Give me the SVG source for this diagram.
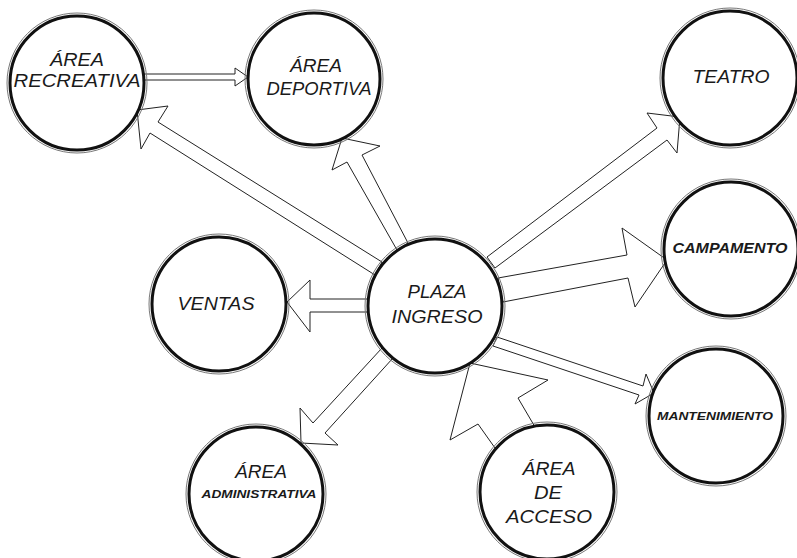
<svg xmlns="http://www.w3.org/2000/svg" width="797" height="558" viewBox="0 0 797 558">
<defs>
<style>
.ring{fill:#fff;stroke:#111;stroke-width:3}
.halo{fill:none;stroke:#777;stroke-width:1}
.arr{fill:#fff;stroke:#222;stroke-width:1;stroke-linejoin:miter}
text{font-family:"Liberation Sans","DejaVu Sans",sans-serif;font-style:italic;fill:#1a1a1a;text-anchor:middle}
.t{font-size:18px}
.s{font-size:14px;font-weight:bold}
.xs{font-size:11.5px;font-weight:bold}
</style>
</defs>
<rect width="797" height="558" fill="#fff"/>
<g id="connectors">
<polygon class="arr" points="140,74 235,74 235,68 248,77 235,86 235,80 140,80"/>
<polygon class="arr" points="382,262 158,122 168,106 137,110 141,149 150,133 375,275"/>
<polygon class="arr" points="397,250 347,162 332,170 342,138 380,146 362,155 408,243"/>
<polygon class="arr" points="487,257 657,128 647,113 680,117 677,153 667,140 495,268"/>
<polygon class="arr" points="498,278 627,255 622,228 667,260 635,307 628,278 503,302"/>
<polygon class="arr" points="497,337 643,386 646,374 654,393 635,404 639,395 493,346"/>
<polygon class="arr" points="370,299 310,299 310,280 287,302 310,332 310,312 370,312"/>
<polygon class="arr" points="382,348 313,423 300,408 301,443 338,445 325,433 393,358"/>
<polygon class="arr" points="495,448 478,424 450,440 470,363 548,380 518,398 535,427"/>
</g>
<g id="n-recreativa">
<circle class="halo" cx="77" cy="83" r="70"/><circle class="ring" cx="77" cy="83" r="67"/>
<text class="t" x="77" y="66" textLength="54" lengthAdjust="spacingAndGlyphs">ÁREA</text>
<text class="t" x="77" y="87" textLength="127" lengthAdjust="spacingAndGlyphs">RECREATIVA</text>
</g>
<g id="n-deportiva">
<circle class="halo" cx="314" cy="79" r="69"/><circle class="ring" cx="314" cy="79" r="66"/>
<text class="t" x="316" y="72" textLength="52" lengthAdjust="spacingAndGlyphs">ÁREA</text>
<text class="t" x="319" y="95" textLength="105" lengthAdjust="spacingAndGlyphs">DEPORTIVA</text>
</g>
<g id="n-teatro">
<circle class="halo" cx="730" cy="78" r="70"/><circle class="ring" cx="730" cy="78" r="67"/>
<text class="t" x="731" y="83" textLength="77" lengthAdjust="spacingAndGlyphs">TEATRO</text>
</g>
<g id="n-campamento">
<circle class="halo" cx="731" cy="249" r="70"/><circle class="ring" cx="731" cy="249" r="67"/>
<text class="s" x="730" y="253" textLength="115" lengthAdjust="spacingAndGlyphs">CAMPAMENTO</text>
</g>
<g id="n-mantenimiento">
<circle class="halo" cx="716" cy="416" r="70"/><circle class="ring" cx="716" cy="416" r="67"/>
<text class="xs" x="715" y="420" textLength="116" lengthAdjust="spacingAndGlyphs">MANTENIMIENTO</text>
</g>
<g id="n-acceso">
<circle class="halo" cx="547" cy="492" r="70"/><circle class="ring" cx="547" cy="492" r="67"/>
<text class="t" x="549" y="475" textLength="53" lengthAdjust="spacingAndGlyphs">ÁREA</text>
<text class="t" x="548" y="499" textLength="28" lengthAdjust="spacingAndGlyphs">DE</text>
<text class="t" x="549" y="523" textLength="86" lengthAdjust="spacingAndGlyphs">ACCESO</text>
</g>
<g id="n-administrativa">
<circle class="halo" cx="256" cy="494" r="70"/><circle class="ring" cx="256" cy="494" r="67"/>
<text class="t" x="261" y="478" textLength="52" lengthAdjust="spacingAndGlyphs">ÁREA</text>
<text class="xs" x="259" y="498" textLength="115" lengthAdjust="spacingAndGlyphs">ADMINISTRATIVA</text>
</g>
<g id="n-ventas">
<circle class="halo" cx="219" cy="304" r="70"/><circle class="ring" cx="219" cy="304" r="67"/>
<text class="t" x="216" y="310" textLength="77" lengthAdjust="spacingAndGlyphs">VENTAS</text>
</g>
<g id="n-plaza">
<circle class="halo" cx="435" cy="306" r="70"/><circle class="ring" cx="435" cy="306" r="67"/>
<text class="t" x="437" y="298" textLength="59" lengthAdjust="spacingAndGlyphs">PLAZA</text>
<text class="t" x="437" y="323" textLength="91" lengthAdjust="spacingAndGlyphs">INGRESO</text>
</g>
</svg>
